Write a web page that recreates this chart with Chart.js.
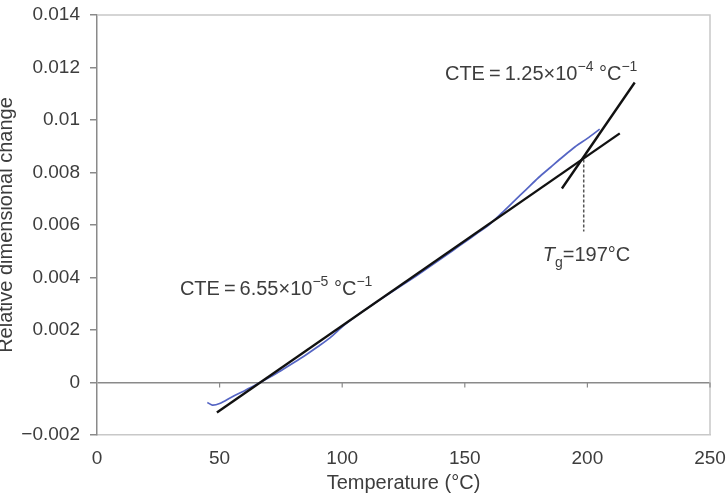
<!DOCTYPE html>
<html><head><meta charset="utf-8">
<script src="https://cdn.jsdelivr.net/npm/chart.js@4/dist/chart.umd.min.js"></script>
<style>html,body{margin:0;padding:0;background:#fff}#wrap{width:727px;height:495px}</style>
</head><body><div id="wrap"><canvas id="c" width="727" height="495"></canvas></div>
<script>
// Measured curve (temperature in °C, relative dimensional change)
const temps = [45,47,50,55,60,65,70,75,80,85,90,95,100,105,110,115,120,125,130,135,140,145,150,155,160,165,170,175,180,185,190,195,200,205];
const change = [-0.00076,-0.00086,-0.00080,-0.00055,-0.00032,-0.00008,0.00018,0.00045,0.00074,0.00104,0.00136,0.00170,0.00212,0.00248,0.00281,0.00313,0.00344,0.00374,0.00405,0.00437,0.00469,0.00502,0.00535,0.00568,0.00602,0.00645,0.00690,0.00735,0.00780,0.00820,0.00860,0.00898,0.00930,0.00965];
// Linear fits
const fit1X = [48.9, 213.2];
const fit1Y = [-0.00114, 0.00949];
const fit2X = [189.6, 219.3];
const fit2Y = [0.00739, 0.01143];
// Tg marker
const tgX = [198.5, 198.5];
const tgY = [0.0085, 0.00575];
// Ticks
const xTicks = [0,50,100,150,200,250];
const yTickLabels = {'-0.002':'\u22120.002','0':'0','0.002':'0.002','0.004':'0.004','0.006':'0.006','0.008':'0.008','0.01':'0.01','0.012':'0.012','0.014':'0.014'};

const FONT = "'Liberation Sans', Arial, sans-serif";
const TXT = '#3d3d3d';

function pts(xs, ys){ return xs.map((x,i)=>({x:x, y:ys[i]})); }

function drawRich(ctx, x, y, segs, size){
  let cx = x;
  segs.forEach(s=>{
    const fs = s.sup||s.sub ? Math.round(size*0.7) : size;
    ctx.font = (s.it?'italic ':'') + fs + 'px ' + FONT;
    const dy = s.sup ? -size*0.42 : (s.sub ? size*0.3 : 0);
    ctx.fillText(s.t, cx, y + dy);
    cx += ctx.measureText(s.t).width;
  });
}

const annot = {
  id:'annot',
  afterDatasetsDraw(chart){
    const ctx = chart.ctx, xs = chart.scales.x, ys = chart.scales.y;
    const L = xs.getPixelForValue(0), R = xs.getPixelForValue(250), T = ys.getPixelForValue(0.014), B = ys.getPixelForValue(-0.002);
    ctx.save();
    ctx.strokeStyle = '#c8c8c8'; ctx.lineWidth = 1.5;
    ctx.beginPath();
    ctx.moveTo(L, T); ctx.lineTo(R, T); ctx.lineTo(R, B);
    ctx.stroke();
    ctx.strokeStyle = '#8a8a8a'; ctx.lineWidth = 1.2;
    const y0 = ys.getPixelForValue(0);
    xTicks.forEach(v=>{ if(v===0) return; const px = xs.getPixelForValue(v); ctx.beginPath(); ctx.moveTo(px, y0); ctx.lineTo(px, y0+5); ctx.stroke(); });
    ctx.fillStyle = TXT; ctx.textBaseline = 'alphabetic'; ctx.textAlign = 'left';
    drawRich(ctx, xs.getPixelForValue(33.8), ys.getPixelForValue(0.00335), [
      {t:'CTE\u2009=\u20096.55\u00d710'},{t:'\u22125',sup:1},{t:' \u00b0C'},{t:'\u22121',sup:1}], 20);
    drawRich(ctx, xs.getPixelForValue(141.9), ys.getPixelForValue(0.01154), [
      {t:'CTE\u2009=\u20091.25\u00d710'},{t:'\u22124',sup:1},{t:' \u00b0C'},{t:'\u22121',sup:1}], 20);
    drawRich(ctx, xs.getPixelForValue(181.8), ys.getPixelForValue(0.00461), [
      {t:'T',it:1},{t:'g',sub:1},{t:'=197\u00b0C'}], 20);
    ctx.restore();
  }
};

new Chart(document.getElementById('c'), {
  type:'scatter',
  data:{ datasets:[
    {data: pts(temps, change), showLine:true, borderColor:'#5565c4', borderWidth:1.7, pointRadius:0, tension:0.3, order:2},
    {data: pts(fit1X, fit1Y), showLine:true, borderColor:'#111', borderWidth:2.4, pointRadius:0, order:1},
    {data: pts(fit2X, fit2Y), showLine:true, borderColor:'#111', borderWidth:2.4, pointRadius:0, order:1},
    {data: pts(tgX, tgY), showLine:true, borderColor:'#555', borderWidth:1.5, borderDash:[3,2], pointRadius:0, order:1}
  ]},
  options:{
    responsive:false, animation:false, devicePixelRatio:1,
    layout:{padding:{top:15, right:17, left:0, bottom:0}},
    plugins:{legend:{display:false}, tooltip:{enabled:false}},
    scales:{
      x:{type:'linear', min:0, max:250,
        afterBuildTicks(s){ s.ticks = xTicks.map(v=>({value:v})); },
        afterFit(s){ s.height = 60; s.paddingRight = 0; s.paddingLeft = 0; },
        grid:{drawOnChartArea:false, drawTicks:false},
        border:{display:true, color:'#c8c8c8', width:1.5},
        ticks:{color:TXT, font:{family:FONT, size:19}, padding:12, maxRotation:0},
        title:{display:true, text:'Temperature (\u00b0C)', color:TXT, font:{family:FONT, size:20}, padding:{top:8,bottom:0}}
      },
      y:{type:'linear', min:-0.002, max:0.014,
        afterBuildTicks(s){ s.ticks = Object.keys(yTickLabels).map(k=>({value:parseFloat(k)})); },
        afterFit(s){ s.width = 97; s.paddingTop = 0; s.paddingBottom = 0; },
        grid:{drawOnChartArea:true, color:(c)=> (c.tick && c.tick.value===0) ? '#8a8a8a' : 'rgba(0,0,0,0)', lineWidth:1.5, drawTicks:true, tickLength:7, tickColor:'#8a8a8a'},
        border:{display:true, color:'#8a8a8a', width:1.5},
        ticks:{color:TXT, font:{family:FONT, size:19}, padding:10,
          callback:(v)=>{ const k = String(parseFloat(v.toFixed(4))); return yTickLabels[k] !== undefined ? yTickLabels[k] : ''; }},
        title:{display:true, text:'Relative dimensional change', color:TXT, font:{family:FONT, size:20}, padding:{top:-6,bottom:0}}
      }
    }
  },
  plugins:[annot]
});
</script></body></html>
